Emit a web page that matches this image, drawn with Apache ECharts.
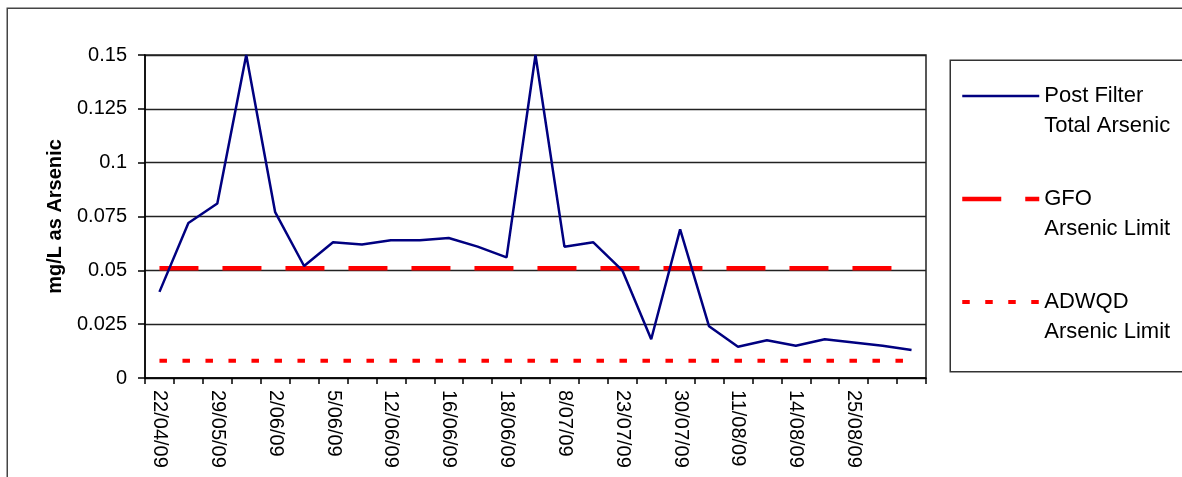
<!DOCTYPE html>
<html><head><meta charset="utf-8">
<script src="https://cdn.jsdelivr.net/npm/echarts@6/dist/echarts.min.js"></script>
<style>html,body{margin:0;padding:0;background:#fff}#c{width:1182px;height:477px}</style>
</head><body><div id="c"></div>
<script>
// sample index (one per sampling date); only every second one is labelled in the source
const sampleIds = ['1','2','3','4','5','6','7','8','9','10','11','12','13','14','15','16','17','18','19','20','21','22','23','24','25','26','27'];
const tickLabels = ['22/04/09','29/05/09','2/06/09','5/06/09','12/06/09','16/06/09','18/06/09','8/07/09','23/07/09','30/07/09','11/08/09','14/08/09','25/08/09'];
const postFilterArsenic = [0.040,0.072,0.081,0.150,0.077,0.052,0.063,0.062,0.064,0.064,0.065,0.061,0.056,0.150,0.061,0.063,0.050,0.018,0.069,0.024,0.0145,0.0175,0.015,0.018,0.0165,0.015,0.013];
const gfoLimit = [0.051,0.051,0.051,0.051,0.051,0.051,0.051,0.051,0.051,0.051,0.051,0.051,0.051,0.051,0.051,0.051,0.051,0.051,0.051,0.051,0.051,0.051,0.051,0.051,0.051,0.051,0.051];
const adwqdLimit = [0.008,0.008,0.008,0.008,0.008,0.008,0.008,0.008,0.008,0.008,0.008,0.008,0.008,0.008,0.008,0.008,0.008,0.008,0.008,0.008,0.008,0.008,0.008,0.008,0.008,0.008,0.008];
const seriesNames = ['Post Filter Total Arsenic','GFO Arsenic Limit','ADWQD Arsenic Limit'];
const legendLabels = ['Post Filter\nTotal Arsenic','GFO\nArsenic Limit','ADWQD\nArsenic Limit'];
const yMin = 0, yMax = 0.15, yStep = 0.025;

const FONT = '"Liberation Sans", Arial, sans-serif';
const NAVY = '#000080', RED = '#ff0000';
const styles = [
  {color:NAVY, width:2.5, type:'solid'},
  {color:RED, width:4.5, type:[39,24]},
  {color:RED, width:4, type:[7.5,15.5]}
];
const chart = echarts.init(document.getElementById('c'), null, {renderer:'canvas'});
chart.setOption({
  animation: false,
  backgroundColor: '#fff',
  textStyle: {fontFamily: FONT, color: '#000'},
  graphic: [
    {type:'rect', z:-10, shape:{x:7.25,y:8.25,width:1300,height:600}, style:{fill:'none', stroke:'#444', lineWidth:1.5}},
    {type:'rect', z:-10, shape:{x:950.25,y:60.25,width:300,height:311.5}, style:{fill:'#fff', stroke:'#333', lineWidth:1.5}}
  ],
  grid: {left:145, right:256, top:55, bottom:99, show:true, borderColor:'#222', borderWidth:1.5, containLabel:false},
  legend: {
    orient:'vertical', left:960, top:51, padding:0, itemGap:13, itemWidth:77, itemHeight:8,
    data: seriesNames.map((n, i) => ({
      name: n,
      itemStyle: {opacity: 0},
      lineStyle: {color: styles[i].color, width: styles[i].width, type: styles[i].type, opacity: 1}
    })),
    formatter: name => '\n' + legendLabels[seriesNames.indexOf(name)],
    textStyle: {fontFamily: FONT, fontSize:22, lineHeight:30, color:'#000'},
    selectedMode:false
  },
  xAxis: {
    type:'category', data: sampleIds, boundaryGap:true,
    axisLine:{show:true, lineStyle:{color:'#000', width:1.5}},
    axisTick:{show:true, interval:0, length:6, lineStyle:{color:'#000', width:1.5}},
    axisLabel:{interval:1, rotate:-90, margin:12, fontSize:20, color:'#000', fontFamily:FONT,
      formatter:(v, idx) => idx % 2 === 0 ? tickLabels[idx/2] : ''},
    splitLine:{show:false}
  },
  yAxis: {
    type:'value', min:yMin, max:yMax, interval:yStep,
    name:'mg/L as Arsenic', nameLocation:'middle', nameGap:80, nameRotate:90,
    nameTextStyle:{fontSize:20, fontWeight:'bold', color:'#000', fontFamily:FONT},
    axisLine:{show:true, lineStyle:{color:'#000', width:1.5}},
    axisTick:{show:true, length:7, lineStyle:{color:'#000', width:1.5}},
    axisLabel:{margin:18, fontSize:20, color:'#000', fontFamily:FONT},
    splitLine:{show:true, lineStyle:{color:'#222', width:1.4}}
  },
  series: [
    {name:seriesNames[0], type:'line', data:postFilterArsenic, symbol:'none', z:5,
      lineStyle:styles[0], itemStyle:{color:NAVY}},
    {name:seriesNames[1], type:'line', data:gfoLimit, symbol:'none', z:4,
      lineStyle:styles[1], itemStyle:{color:RED}},
    {name:seriesNames[2], type:'line', data:adwqdLimit, symbol:'none', z:4,
      lineStyle:styles[2], itemStyle:{color:RED}}
  ]
});
</script></body></html>
